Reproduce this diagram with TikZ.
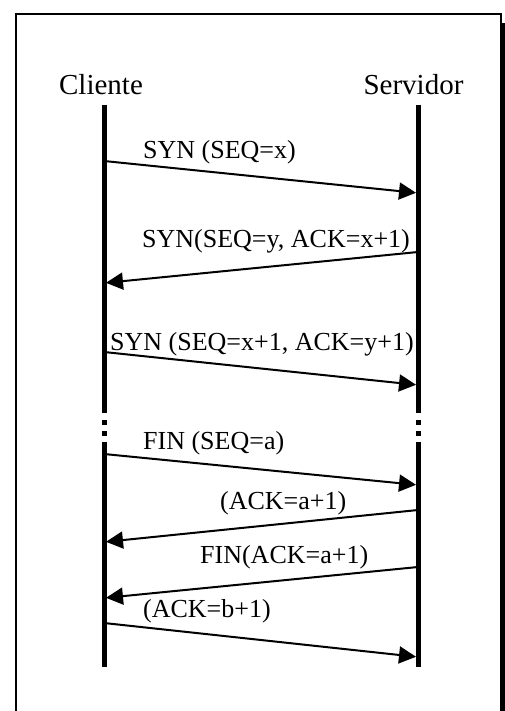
\documentclass[tikz,border=0pt]{standalone}
\usepackage{fontspec}
\setmainfont{Liberation Serif}
\usepackage{tikz}
\usetikzlibrary{arrows.meta, positioning}
\definecolor{ink}{HTML}{000000}
\tikzset{
  head/.style={anchor=base, inner sep=0pt, font=\fontsize{29}{31}\selectfont},
  msg/.style={anchor=base west, inner sep=0pt, font=\fontsize{26}{28}\selectfont},
  life/.style={draw=ink, line width=5pt},
  lifebreak/.style={draw=ink, line width=5pt, dash pattern=on 5pt off 6pt},
  arr/.style={-{Triangle[length=17pt, width=17pt]}, line width=2pt, ink, shorten >=2pt},
}

\begin{document}
\begin{tikzpicture}[x=1pt, y=-1pt]
\useasboundingbox (0,0) rectangle (505,711);
% frame with shadow
\draw[line width=2pt] (16,720) -- (16,14) -- (501,14) -- (501,720);
\fill[ink] (501,23) rectangle (505,720);

% heads
\node[head] (cli) at (101,95) {Cliente};
\node[head] (srv) at (413.5,95) {Servidor};

% lifelines
\coordinate (c0) at (104,105);  \coordinate (s0) at (418,105);
\coordinate (c1) at (104,413);  \coordinate (s1) at (418,413);
\coordinate (c2) at (104,442);  \coordinate (s2) at (418,442);
\coordinate (c3) at (104,667);  \coordinate (s3) at (418,667);
\draw[life] (c0) -- (c1);  \draw[life] (s0) -- (s1);
\draw[lifebreak] ([yshift=-7pt]c1) -- (c2);
\draw[lifebreak] ([yshift=-7pt]s1) -- (s2);
\draw[life] (c2) -- (c3);  \draw[life] (s2) -- (s3);

% connection setup
\coordinate (a1) at (104,161);  \coordinate (b1) at (418,193);
\draw[arr] (a1) -- (b1);
\node[msg] (m1) at (143,159) {SYN (SEQ=x)};

\coordinate (b2) at (418,252);  \coordinate (a2) at (104,283);
\draw[arr] (b2) -- (a2);
\node[msg] (m2) at (142,247) {SYN(SEQ=y, ACK=x+1)};

\coordinate (a3) at (104,352);  \coordinate (b3) at (418,385);
\draw[arr] (a3) -- (b3);
\node[msg] (m3) at (110,350) {SYN (SEQ=x+1, ACK=y+1)};

% release
\coordinate (a4) at (104,454);  \coordinate (b4) at (418,485);
\draw[arr] (a4) -- (b4);
\node[msg] (m4) at (143,449) {FIN (SEQ=a)};

\coordinate (b5) at (418,510);  \coordinate (a5) at (104,542);
\draw[arr] (b5) -- (a5);
\node[msg] (m5) at (220,509) {(ACK=a+1)};

\coordinate (b6) at (418,567);  \coordinate (a6) at (104,598);
\draw[arr] (b6) -- (a6);
\node[msg] (m6) at (200,563) {FIN(ACK=a+1)};

\coordinate (a7) at (104,623);  \coordinate (b7) at (418,657);
\draw[arr] (a7) -- (b7);
\node[msg] (m7) at (143,617) {(ACK=b+1)};
\end{tikzpicture}
\end{document}
